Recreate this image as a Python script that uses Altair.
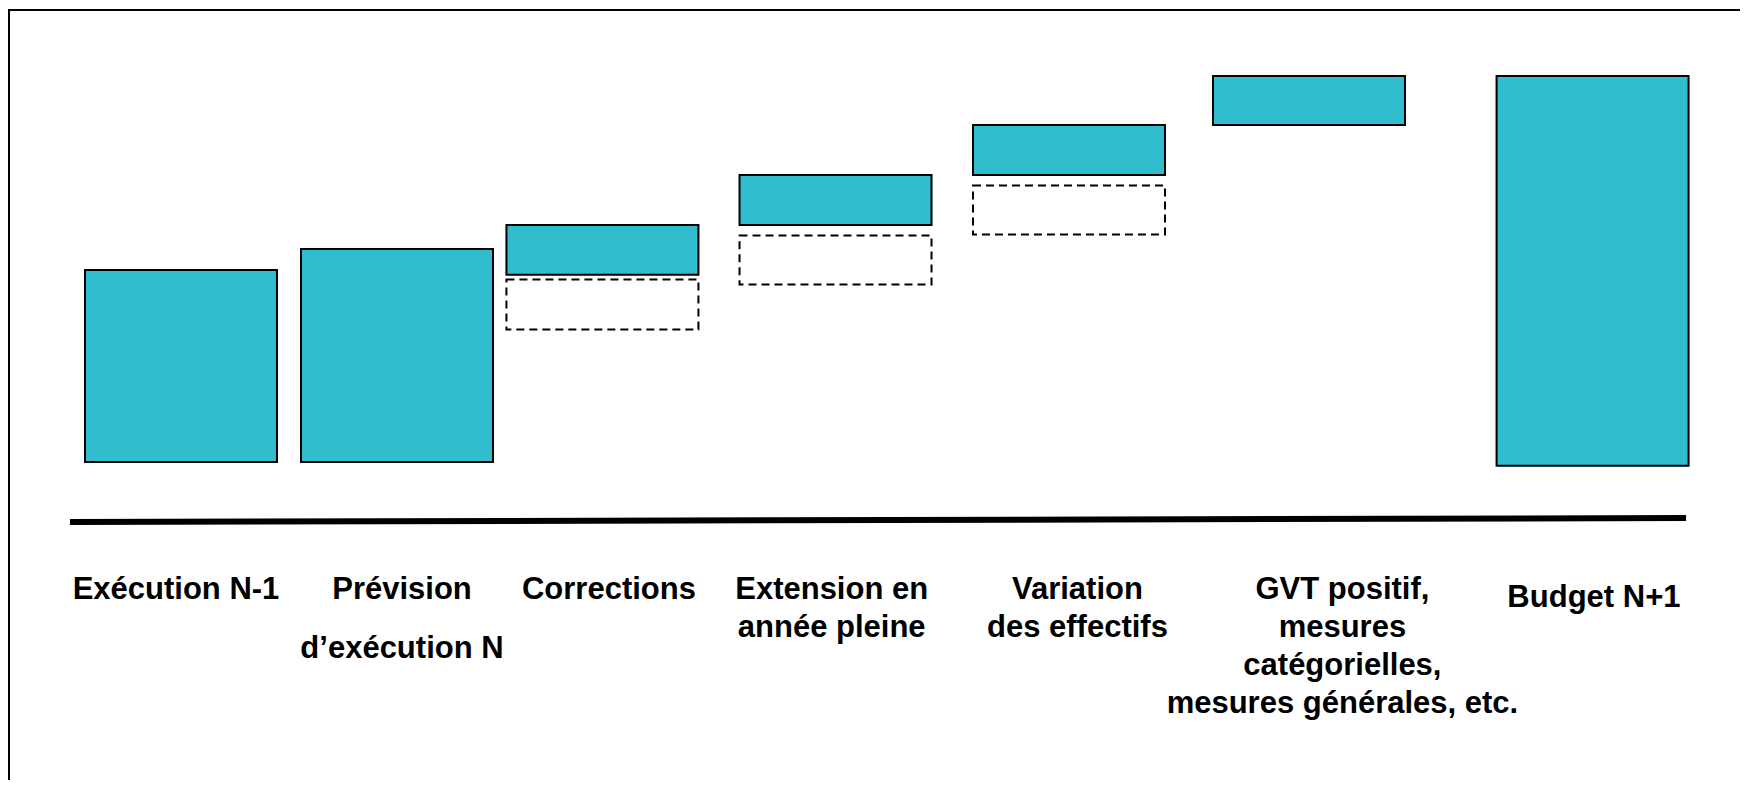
import altair as alt
import pandas as pd

# ---- data ----
categories = [
    "Exécution N-1",
    "Prévision d’exécution N",
    "Corrections",
    "Extension en année pleine",
    "Variation des effectifs",
    "GVT positif, mesures catégorielles, mesures générales, etc.",
    "Budget N+1",
]
label_lines = [
    ["Exécution N-1"],
    ["Prévision", "d’exécution N"],
    ["Corrections"],
    ["Extension en", "année pleine"],
    ["Variation", "des effectifs"],
    ["GVT positif,", "mesures", "catégorielles,", "mesures générales, etc."],
    ["Budget N+1"],
]
bar_centre = [0.901, 2.026, 3.096, 4.310, 5.526, 6.776, 8.253]
label_centre = [0.875, 2.052, 3.13, 4.29, 5.57, 6.95, 8.26]
bar_low = [0, 0, 97.5, 123.5, 149.5, 175.5, -2]
bar_high = [100, 111, 123.5, 149.5, 175.5, 201, 201]

prior_categories = ["Corrections", "Extension en année pleine", "Variation des effectifs"]
prior_low = [69, 92.5, 118.5]
prior_high = [95, 118, 144]

baseline_x = [0.323, 8.74]
baseline_y = [-31.25, -29.2]

# ---- layout ----
W, H = 1732, 772
X_DOMAIN = [0, W / 192]
Y_DOMAIN = [(454 - H) / 1.92, 454 / 1.92]
TEAL = "#31BDCE"
FONT = "Liberation Sans"

xs = alt.Scale(domain=X_DOMAIN, nice=False, zero=False)
ys = alt.Scale(domain=Y_DOMAIN, nice=False, zero=False)

bars_df = pd.DataFrame({"cat": categories, "c": bar_centre, "lo": bar_low, "hi": bar_high})
prior_df = pd.DataFrame({
    "cat": prior_categories,
    "c": [bar_centre[categories.index(c)] for c in prior_categories],
    "lo": prior_low,
    "hi": prior_high,
})
labels_df = pd.DataFrame({
    "cat": categories,
    "lc": label_centre,
    "txt": ["\n".join(l) for l in label_lines],
})
base_df = pd.DataFrame({"x": [baseline_x[0]], "x2": [baseline_x[1]],
                        "y": [baseline_y[0]], "y2": [baseline_y[1]]})

bars = alt.Chart(bars_df).transform_calculate(
    l="datum.c - 0.5", r="datum.c + 0.5"
).mark_rect(fill=TEAL, stroke="black", strokeWidth=2).encode(
    x=alt.X("l:Q", scale=xs, axis=None),
    x2="r:Q",
    y=alt.Y("lo:Q", scale=ys, axis=None),
    y2="hi:Q",
)

prior = alt.Chart(prior_df).transform_calculate(
    l="datum.c - 0.5", r="datum.c + 0.5"
).mark_rect(fill="white", fillOpacity=0, stroke="black", strokeWidth=2,
            strokeDash=[8, 5]).encode(
    x=alt.X("l:Q", scale=xs, axis=None),
    x2="r:Q",
    y=alt.Y("lo:Q", scale=ys, axis=None),
    y2="hi:Q",
)

baseline = alt.Chart(base_df).mark_rule(color="black", strokeWidth=6, strokeCap="butt").encode(
    x=alt.X("x:Q", scale=xs, axis=None),
    x2="x2:Q",
    y=alt.Y("y:Q", scale=ys, axis=None),
    y2="y2:Q",
)

text_common = dict(align="center", baseline="alphabetic", lineBreak="\n",
                   fontSize=31, font=FONT, fontWeight="bold", color="black")

LABEL_Y = -71.3

labels = alt.Chart(labels_df).transform_filter(
    (alt.datum.cat != categories[1]) & (alt.datum.cat != categories[6])
).mark_text(lineHeight=38, **text_common).encode(
    x=alt.X("lc:Q", scale=xs, axis=None),
    y=alt.datum(LABEL_Y, scale=ys),
    text="txt:N",
)

labels_prev = alt.Chart(labels_df).transform_filter(
    alt.datum.cat == categories[1]
).mark_text(lineHeight=59, **text_common).encode(
    x=alt.X("lc:Q", scale=xs, axis=None),
    y=alt.datum(LABEL_Y, scale=ys),
    text="txt:N",
)

labels_budget = alt.Chart(labels_df).transform_filter(
    alt.datum.cat == categories[6]
).mark_text(dy=8, **text_common).encode(
    x=alt.X("lc:Q", scale=xs, axis=None),
    y=alt.datum(LABEL_Y, scale=ys),
    text="txt:N",
)

frame_top = alt.Chart(bars_df).mark_rule(color="black", strokeWidth=2).encode(
    x=alt.value(0), x2=alt.value(W), y=alt.value(2)
)
frame_left = alt.Chart(bars_df).mark_rule(color="black", strokeWidth=2).encode(
    x=alt.value(1), y=alt.value(1), y2=alt.value(H)
)

chart = alt.layer(
    frame_top, frame_left, prior, bars, baseline, labels, labels_prev, labels_budget
).properties(
    width=W, height=H, padding=0, autosize=alt.AutoSizeParams(type="none"),
    background="white",
).configure_view(strokeWidth=0)

chart.save("out.html", embed_options={"renderer": "svg", "actions": False})
